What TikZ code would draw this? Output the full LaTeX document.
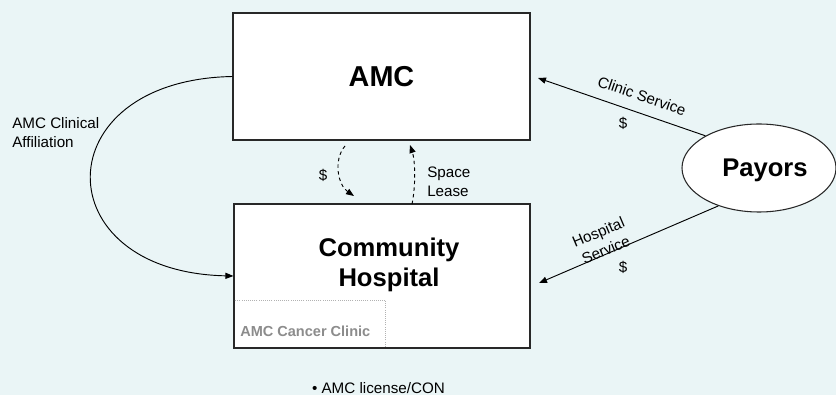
\documentclass[tikz,border=0pt]{standalone}
\usepackage{fontspec}
\setmainfont{Liberation Sans}
\usetikzlibrary{arrows.meta,shapes.geometric}
\definecolor{pagebg}{RGB}{234,245,246}
\definecolor{boxline}{RGB}{40,40,40}
\definecolor{clinicgray}{RGB}{140,140,140}
\begin{document}
\begin{tikzpicture}[x=0.75pt,y=-0.75pt,
  entity/.style={draw=boxline,line width=0.9pt,fill=white,rectangle,inner sep=0pt},
  payorshape/.style={draw=boxline,line width=0.8pt,fill=white,ellipse,inner sep=0pt,
    minimum width=115.5pt,minimum height=66pt},
  bigtitle/.style={font=\fontsize{21.6}{25}\selectfont\bfseries,inner sep=0pt},
  midtitle/.style={font=\fontsize{19.2}{22.5}\selectfont\bfseries,inner sep=0pt,align=center},
  lbl/.style={font=\fontsize{11.4}{14.25}\selectfont,inner sep=0pt},
  flow/.style={line width=0.7pt,-{Triangle[length=6pt,width=4.6pt]}},
  dashflow/.style={flow,dash pattern=on 2.6pt off 2.4pt},
  clinicbox/.style={draw=black!30,densely dotted,line width=0.6pt,rectangle,inner sep=0pt,
    minimum width=114pt,minimum height=36pt},
  clinictext/.style={font=\fontsize{10.9}{13}\selectfont\bfseries,text=clinicgray,inner sep=0pt}]

% page
\fill[pagebg] (0,0) rectangle (836,395);
\useasboundingbox (0,0) rectangle (836,395);

% main blocks
\node[entity,minimum width=222.75pt,minimum height=95.25pt] (amc) at (381.5,76.5) {};
\node[bigtitle] (amctext) at (381.5,77) {AMC};

\node[entity,minimum width=222pt,minimum height=108pt] (hosp) at (382,276) {};
\node[clinicbox,anchor=south west] (clinic) at (hosp.south west) {};
\draw[boxline,line width=0.9pt] (hosp.north west) rectangle (hosp.south east);
\node[midtitle] (hosptext) at (389,265) {Community\\Hospital};
\node[clinictext,anchor=west] (clinictxt) at (240,331) {AMC Cancer Clinic};

\node[payorshape] (payors) at (759,168) {};
\node[midtitle] (payorstext) at (765,170) {Payors};

% free ends of the connectors
\coordinate (clinictip) at (538,78);
\coordinate (hosptip) at (539,283);
\coordinate (paystart) at (345,146);
\coordinate (paytip) at (354,196);
\coordinate (leasestart) at (412,204);
\coordinate (leasetip) at (410,145);

% affiliation curve
\draw[flow] (amc.west) .. controls (44,80) and (44,272) .. (hosp.west);
\node[lbl,anchor=west,align=left] (afflabel) at (12,132.5) {AMC Clinical\\Affiliation};

% rent payments and space lease
\draw[dashflow] (paystart) .. controls (333,160) and (338,185) .. (paytip);
\node[lbl] (paydollar) at (323,175) {\$};
\draw[dashflow] (leasestart) .. controls (416,185) and (415,160) .. (leasetip);
\node[lbl,anchor=west,align=left] (leaselabel) at (427,181.5) {Space\\Lease};

% payor flows
\draw[flow] (payors.149) -- (clinictip);
\node[lbl,rotate=-19] (clinicsvc) at (642,96) {Clinic Service};
\node[lbl] (clinicdollar) at (623,123) {\$};

\draw[flow] (payors.223.5) -- (hosptip);
\node[lbl,rotate=23,align=center] (hospsvc) at (602,241) {Hospital\\Service};
\node[lbl] (hospdollar) at (623,267) {\$};

% note
\node[lbl] (note) at (378.5,388) {• AMC license/CON};
\end{tikzpicture}
\end{document}
